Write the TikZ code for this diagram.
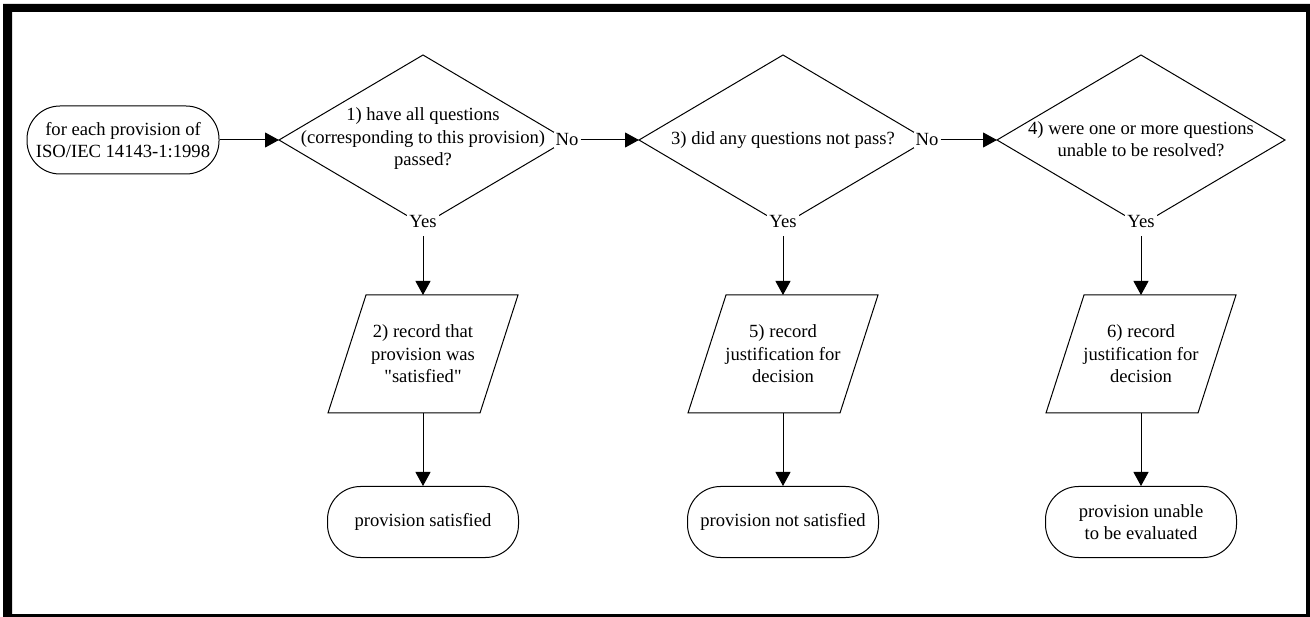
\documentclass[tikz,border=0pt]{standalone}
\usepackage{fontspec}
\setmainfont{Liberation Serif}
\usetikzlibrary{shapes.geometric,arrows.meta}
\begin{document}
\begin{tikzpicture}[x=1pt,y=-1pt,
  every node/.style={font=\fontsize{18.6pt}{22.5pt}\selectfont, align=center},
  term/.style={draw, line width=1pt, rounded corners=33pt, minimum width=191pt, minimum height=71pt, inner sep=0pt},
  dia/.style={draw, diamond, line width=1pt, minimum width=288pt, minimum height=170pt, inner sep=0pt, outer sep=0pt},
  ptxt/.style={minimum width=152pt, minimum height=118pt, inner sep=0pt, outer sep=0pt},
  pshape/.style={draw, line width=1pt, line join=miter},
  lbl/.style={fill=white, inner sep=2pt},
  arr/.style={line width=1pt, -{Triangle[length=14pt,width=15pt]}}
]
\useasboundingbox (0,0) rectangle (1310,617);
\fill[white] (0,0) rectangle (1310,617);
% frame
\fill[black, even odd rule] (3,4) rectangle (1310,617) (12,12) rectangle (1306,614);

% start
\node[term, minimum width=192pt, minimum height=68pt] (start) at (123,140) {for each provision of\\ISO/IEC 14143-1:1998};

% decisions
\node[dia] (d1) at (423,140) {};
\node (d1t) at (423,139) {1) have all questions\\(corresponding to this provision)\\passed?};
\node[dia] (d2) at (783,140) {};
\node (d2t) at (783,140) {3) did any questions not pass?};
\node[dia] (d3) at (1141,140) {};
\node (d3t) at (1141,139) {4) were one or more questions\\unable to be resolved?};

% labels
\node[lbl] (n1) at (d1.east) {No};
\node[lbl] (n2) at (d2.east) {No};
\node[lbl] (y1) at ([yshift=3pt]d1.south) {Yes};
\node[lbl] (y2) at ([yshift=3pt]d2.south) {Yes};
\node[lbl] (y3) at ([yshift=3pt]d3.south) {Yes};

% records
\node[ptxt] (p1) at (423,354) {2) record that\\provision was\\\textquotedbl satisfied\textquotedbl};
\node[ptxt] (p2) at (783,354) {5) record\\justification for\\decision};
\node[ptxt] (p3) at (1141,354) {6) record\\justification for\\decision};
\foreach \p in {p1,p2,p3}{
  \draw[pshape] ([xshift=19pt]\p.north west) -- ([xshift=19pt]\p.north east)
     -- ([xshift=-19pt]\p.south east) -- ([xshift=-19pt]\p.south west) -- cycle;
}

% ends
\node[term] (e1) at (423,522) {provision satisfied};
\node[term] (e2) at (783,522) {provision not satisfied};
\node[term] (e3) at (1141,522) {provision unable\\to be evaluated};

% connectors
\draw[arr] (start.east) -- (d1.west);
\draw[arr] (n1.east) -- (d2.west);
\draw[arr] (n2.east) -- (d3.west);
\draw[arr, shorten <=6pt] (y1.south) -- (p1.north);
\draw[arr, shorten <=6pt] (y2.south) -- (p2.north);
\draw[arr, shorten <=6pt] (y3.south) -- (p3.north);
\draw[arr] (p1.south) -- (e1.north);
\draw[arr] (p2.south) -- (e2.north);
\draw[arr] (p3.south) -- (e3.north);
\end{tikzpicture}
\end{document}
